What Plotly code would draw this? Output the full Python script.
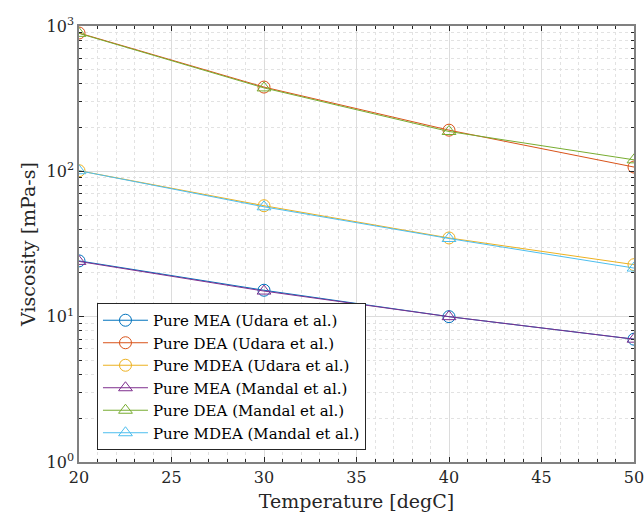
import plotly.graph_objects as go

temps = [20, 30, 40, 50]
udara_mea = [24.2, 15.2, 10.0, 7.0]
udara_dea = [895, 380, 192, 107]
udara_mdea = [101, 58, 34.8, 22.8]
mandal_mea = [24.0, 15.0, 10.0, 7.0]
mandal_dea = [890, 375, 188, 120]
mandal_mdea = [101, 57, 34.5, 21.6]

names = ["Pure MEA (Udara et al.)", "Pure DEA (Udara et al.)", "Pure MDEA (Udara et al.)",
         "Pure MEA (Mandal et al.)", "Pure DEA (Mandal et al.)", "Pure MDEA (Mandal et al.)"]
series = [udara_mea, udara_dea, udara_mdea, mandal_mea, mandal_dea, mandal_mdea]
colors = ["#0072BD", "#D95319", "#EDB120", "#7E2F8E", "#77AC30", "#4DBEEE"]
symbols = ["circle-open"] * 3 + ["triangle-up-open"] * 3

xticks = [20, 25, 30, 35, 40, 45, 50]
yticks = [1, 10, 100, 1000]
ytick_text = ["10<sup>0</sup>", "10<sup>1</sup>", "10<sup>2</sup>", "10<sup>3</sup>"]

FONT = "DejaVu Serif"

fig = go.Figure()
for n, s, c, m in zip(names, series, colors, symbols):
    fig.add_trace(go.Scatter(
        x=temps, y=s, name=n, mode="lines+markers",
        line=dict(color=c, width=1),
        marker=dict(symbol=m, size=12, color=c, line=dict(color=c, width=1)),
    ))

minor_x = [v for v in range(20, 51) if v % 5 != 0]
minor_y = [k * 10 ** d for d in range(0, 3) for k in range(2, 10)]

fig.update_layout(
    width=644, height=518,
    margin=dict(l=79, r=10, t=26, b=56, autoexpand=False),
    paper_bgcolor="white", plot_bgcolor="white",
    font=dict(family=FONT, size=16, color="#262626"),
    legend=dict(
        x=0.0324, y=0.3647, xanchor="left", yanchor="top",
        bgcolor="white", bordercolor="#262626", borderwidth=1,
        font=dict(family=FONT, size=15, color="#000000"),
        tracegroupgap=0, itemwidth=45,
    ),
    showlegend=True,
)
fig.update_xaxes(
    range=[20, 50], tickvals=xticks, ticktext=[str(v) for v in xticks],
    ticks="inside", ticklen=5, tickcolor="#262626",
    showline=True, linecolor="#808080", linewidth=1.5, mirror="ticks",
    showgrid=True, gridcolor="#dcdcdc", gridwidth=1, zeroline=False,
    minor=dict(tickvals=minor_x, ticks="inside", ticklen=3, tickcolor="#262626",
               showgrid=True, gridcolor="#e2e2e2", griddash="dot", gridwidth=1),
    title=dict(text="Temperature [degC]", font=dict(family=FONT, size=19, color="#262626"), standoff=9),
    tickfont=dict(family=FONT, size=16, color="#262626"),
    ticklabeloverflow="allow",
    automargin=False,
)
fig.update_yaxes(
    type="log", range=[0, 3], tickvals=yticks, ticktext=ytick_text,
    ticks="inside", ticklen=5, tickcolor="#262626",
    showline=True, linecolor="#808080", linewidth=1.5, mirror="ticks",
    showgrid=True, gridcolor="#dcdcdc", gridwidth=1, zeroline=False,
    minor=dict(tickvals=minor_y, ticks="inside", ticklen=3, tickcolor="#262626",
               showgrid=True, gridcolor="#e2e2e2", griddash="dot", gridwidth=1),
    title=dict(text="Viscosity [mPa-s]", font=dict(family=FONT, size=19, color="#262626"), standoff=6),
    tickfont=dict(family=FONT, size=16, color="#262626"),
    automargin=False,
)
fig.write_html(
    "out.html",
    config={"displayModeBar": False},
    post_script="document.body.style.margin='0';document.body.style.overflow='hidden';",
)
